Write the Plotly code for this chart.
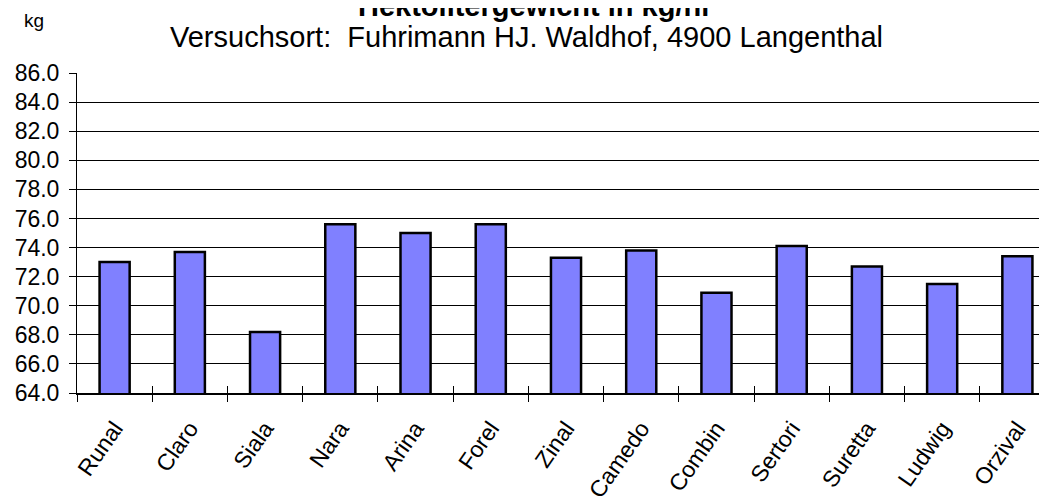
import plotly.graph_objects as go

categories = ["Runal", "Claro", "Siala", "Nara", "Arina", "Forel", "Zinal",
              "Camedo", "Combin", "Sertori", "Suretta", "Ludwig", "Orzival"]
values = [73.0, 73.7, 68.2, 75.6, 75.0, 75.6, 73.3, 73.8, 70.9, 74.1, 72.7, 71.5, 73.4]
y_ticks = [64 + 2 * i for i in range(12)]

title_text = "<b>Hektolitergewicht in kg/hl</b>"
subtitle_text = "Versuchsort:  Fuhrimann HJ. Waldhof, 4900 Langenthal"
unit_text = "kg"

FONT = "Liberation Sans, Arial, sans-serif"

fig = go.Figure()
fig.add_trace(go.Bar(
    x=categories, y=values, width=0.4,
    marker=dict(color="#8080FF", line=dict(color="black", width=2.5)),
    xaxis="x", yaxis="y",
))

# page body has an 8px margin; figure coordinates = screen - 8
W, H = 1047, 502
ml, mt, mb, mr = 69, 65, 117, 0
plot_h = H - mt - mb
plot_w = W - ml - mr

def ypaper(yfig):
    return 1 + (mt - yfig) / plot_h

def xpaper(xfig):
    return (xfig - ml) / plot_w

fig.update_layout(
    width=W, height=H,
    margin=dict(l=ml, r=mr, t=mt, b=mb, pad=0, autoexpand=False),
    paper_bgcolor="white", plot_bgcolor="white",
    showlegend=False,
    font=dict(family=FONT, color="black"),
    xaxis=dict(
        type="category", categoryorder="array", categoryarray=categories,
        range=[-0.5, 12.5], automargin=False,
        showgrid=False, showline=True, linecolor="black", linewidth=1.5,
        ticks="outside", tickson="boundaries", ticklen=7, tickcolor="black", tickwidth=1,
        tickangle=-55, tickfont=dict(size=23, family=FONT, color="black"),
        ticklabelstandoff=11,
    ),
    xaxis2=dict(
        type="category", overlaying="x", matches="x", anchor="y",
        categoryorder="array", categoryarray=categories,
        showgrid=False, showline=False,
        ticks="inside", tickson="boundaries", ticklen=7, tickcolor="black", tickwidth=1,
        showticklabels=False,
    ),
    yaxis=dict(
        range=[64, 86], tickvals=y_ticks, ticktext=[f"{v:.1f}" for v in y_ticks],
        automargin=False,
        showgrid=True, gridcolor="black", gridwidth=1,
        showline=True, linecolor="black", linewidth=1,
        ticks="outside", ticklen=7, tickcolor="black",
        tickfont=dict(size=23, family=FONT, color="black"),
        ticklabelstandoff=5,
        zeroline=False,
    ),
    annotations=[
        dict(text=title_text, xref="paper", yref="paper", x=xpaper(525), y=ypaper(16),
             xanchor="center", yanchor="bottom", showarrow=False,
             font=dict(size=29, family=FONT, color="black")),
        dict(text=subtitle_text, xref="paper", yref="paper", x=xpaper(518), y=ypaper(29),
             xanchor="center", yanchor="middle", showarrow=False,
             font=dict(size=29, family=FONT, color="black")),
        dict(text=unit_text, xref="paper", yref="paper", x=xpaper(26), y=ypaper(12),
             xanchor="center", yanchor="middle", showarrow=False,
             font=dict(size=19, family=FONT, color="black")),
    ],
)
# invisible trace so the overlaid axis draws its inside ticks
fig.add_trace(go.Bar(x=categories, y=[None] * len(categories), xaxis="x2", yaxis="y",
                     hoverinfo="skip", showlegend=False))

fig.write_html("out.html")
